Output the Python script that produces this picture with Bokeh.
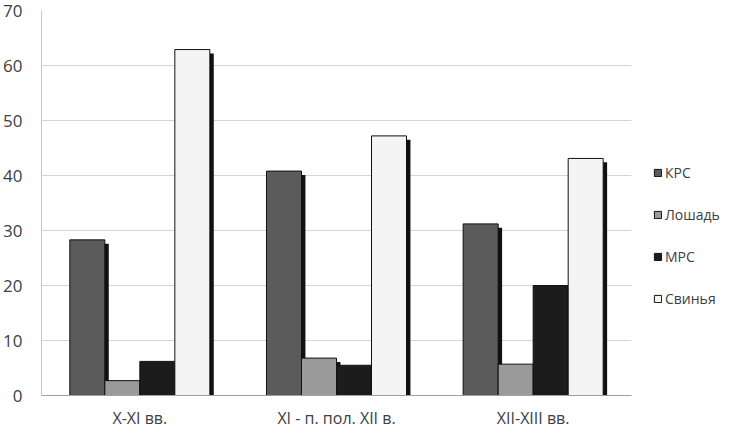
from bokeh.plotting import figure
from bokeh.models import ColumnDataSource, Legend, LegendItem, FixedTicker
from bokeh.transform import dodge
from bokeh.embed import file_html
from bokeh.resources import INLINE

periods = ["X-XI вв.", "XI - п. пол. XII в.", "XII-XIII вв."]
series = ["КРС", "Лошадь", "МРС", "Свинья"]
krs = [28.3, 40.8, 31.2]
loshad = [2.7, 6.8, 5.7]
mrs = [6.2, 5.5, 20.0]
svinya = [62.9, 47.2, 43.1]
y_ticks = [0, 10, 20, 30, 40, 50, 60, 70]

values = [krs, loshad, mrs, svinya]
colors = ["#5b5b5b", "#9a9a9a", "#1c1c1c", "#f4f4f4"]
offsets = [-0.267, -0.089, 0.089, 0.267]
bar_w = 0.178
shadow_dx = 0.02
shadow_dy = 0.7

font = "Open Sans"

p = figure(x_range=periods, y_range=(0, 70), frame_width=590, frame_height=385,
           output_backend="svg", toolbar_location=None,
           min_border_left=38, min_border_top=10, min_border_bottom=22, min_border_right=86)
p.outline_line_color = None
p.background_fill_color = "white"

src = {"cat": periods}
for i, vals in enumerate(values):
    src[f"v{i}"] = vals
    src[f"s{i}"] = [max(v - shadow_dy, 0) for v in vals]
source = ColumnDataSource(src)

items = []
for i, name in enumerate(series):
    p.vbar(x=dodge("cat", offsets[i] + shadow_dx, range=p.x_range), top=f"s{i}", width=bar_w,
           source=source, fill_color="#111111", line_color=None)
    r = p.vbar(x=dodge("cat", offsets[i], range=p.x_range), top=f"v{i}", width=bar_w,
               source=source, fill_color=colors[i], line_color="#111111", line_width=1)
    items.append(LegendItem(label=name, renderers=[r]))

legend = Legend(items=items, location=(22, 87), glyph_width=9, glyph_height=9,
                label_standoff=3, spacing=23, padding=0, margin=0,
                label_text_font=font, label_text_font_size="14px", label_text_color="#404040",
                border_line_color=None, background_fill_alpha=0)
p.add_layout(legend, "right")

p.yaxis.ticker = FixedTicker(ticks=y_ticks)
p.yaxis.axis_line_color = "#c8c8c8"
p.yaxis.major_tick_line_color = None
p.yaxis.minor_tick_line_color = None
p.yaxis.major_label_text_font = font
p.yaxis.major_label_text_font_size = "17px"
p.yaxis.major_label_text_color = "#404040"
p.yaxis.major_label_standoff = 13

p.xaxis.axis_line_color = "#a0a0a0"
p.xaxis.major_tick_line_color = None
p.xaxis.minor_tick_line_color = None
p.xaxis.major_label_text_font = font
p.xaxis.major_label_text_font_size = "16px"
p.xaxis.major_label_text_color = "#404040"
p.xaxis.major_label_standoff = 5

p.xgrid.grid_line_color = None
p.ygrid.grid_line_color = "#d4d4d4"
p.ygrid.ticker = FixedTicker(ticks=y_ticks)

open("out.html", "w").write(file_html(p, INLINE))
